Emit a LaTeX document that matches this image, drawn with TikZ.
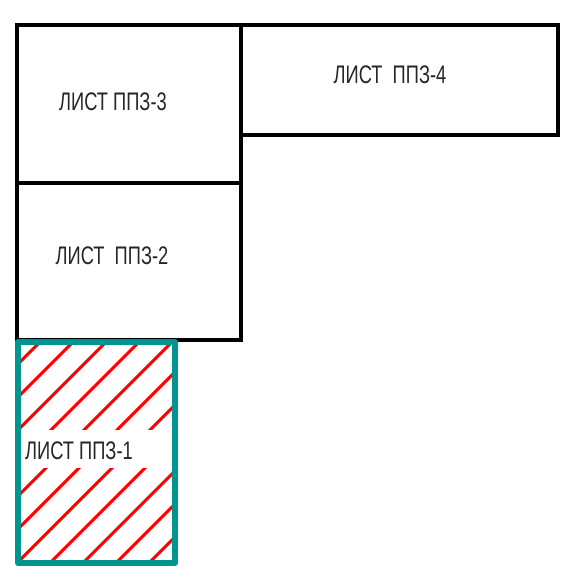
\documentclass[tikz,border=0pt]{standalone}
\usepackage{fontspec}
\setmainfont{Liberation Sans}[FakeStretch=0.72]
\definecolor{tealframe}{RGB}{0,150,143}
\definecolor{hatchred}{RGB}{255,0,0}
\tikzset{
  sheet/.style={draw=black, line width=4bp, line join=miter},
  current/.style={draw=tealframe, line width=6bp, line join=round},
  hatch/.style={draw=hatchred, line width=3bp},
  lbl/.style={inner sep=0pt, font=\fontsize{25.5}{28}\selectfont, text=black!85}
}
\begin{document}
\begin{tikzpicture}[x=1bp, y=-1bp]
\useasboundingbox (0,0) rectangle (573,585);
% sheets
\draw[sheet] (17,25) rectangle (241,183);
\draw[sheet] (241,25) rectangle (558,135);
\draw[sheet] (17,183) rectangle (241,340);
% hatching of current sheet
\begin{scope}
  \clip (18,342) rectangle (175,563);
  \foreach \c in {349,382,...,745} {
    \draw[hatch] (\c-342+20,322) -- (\c-563-20,583);
  }
  \fill[white] (18,430) rectangle (175,468);
\end{scope}
\draw[current] (18,342) rectangle (175,563);
% labels
\node[lbl] (t3) at (113,102) {ЛИСТ ППЗ-3};
\node[lbl] (t4) at (390,75) {ЛИСТ\ \ ППЗ-4};
\node[lbl] (t2) at (112,256) {ЛИСТ\ \ ППЗ-2};
\node[lbl] (t1) at (79,451) {ЛИСТ ППЗ-1};
\end{tikzpicture}
\end{document}
